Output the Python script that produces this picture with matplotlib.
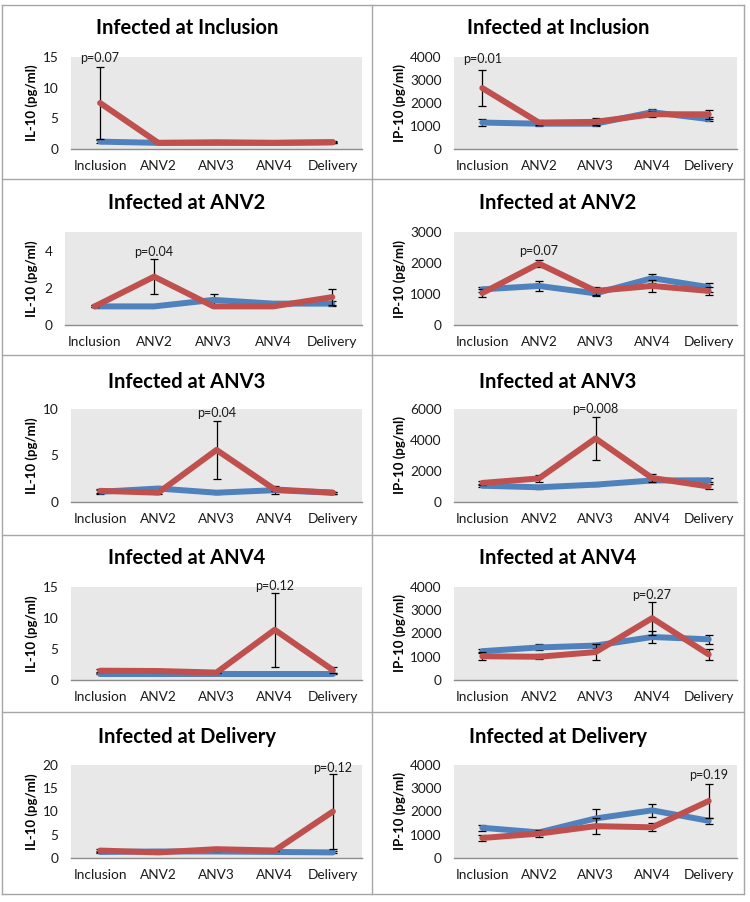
import matplotlib
matplotlib.use("Agg")
import matplotlib.pyplot as plt
from matplotlib.lines import Line2D

plt.rcParams['font.family'] = ['Lato', 'DejaVu Sans']

categories = ["Inclusion", "ANV2", "ANV3", "ANV4", "Delivery"]

titles = ["Infected at Inclusion", "Infected at ANV2", "Infected at ANV3",
          "Infected at ANV4", "Infected at Delivery"]

# IL-10 (left column)
il10_blue = [
    [1.2, 1.0, 1.1, 1.0, 1.1],
    [1.0, 1.0, 1.35, 1.15, 1.15],
    [1.1, 1.45, 1.0, 1.27, 1.0],
    [1.0, 1.0, 1.0, 1.0, 1.0],
    [1.3, 1.4, 1.4, 1.3, 1.2],
]
il10_blue_err = [
    [0.2, 0.1, 0.1, 0.1, 0.2],
    [0.05, 0.05, 0.3, 0.1, 0.15],
    [0.2, 0.2, 0.1, 0.4, 0.1],
    [0.1, 0.1, 0.1, 0.1, 0.1],
    [0.3, 0.2, 0.2, 0.2, 0.2],
]
il10_red = [
    [7.5, 1.0, 1.0, 1.0, 1.1],
    [1.0, 2.6, 1.0, 1.0, 1.5],
    [1.2, 1.0, 5.6, 1.35, 1.0],
    [1.5, 1.45, 1.2, 8.1, 1.6],
    [1.6, 1.2, 1.9, 1.6, 10.0],
]
il10_red_err = [
    [5.9, 0.1, 0.1, 0.1, 0.1],
    [0.05, 0.95, 0.05, 0.05, 0.45],
    [0.2, 0.1, 3.1, 0.2, 0.1],
    [0.2, 0.2, 0.1, 6.0, 0.5],
    [0.3, 0.2, 0.3, 0.2, 8.0],
]
il10_ymax = [15, 5, 10, 15, 20]
il10_ticks = [[0, 5, 10, 15], [0, 2, 4], [0, 5, 10], [0, 5, 10, 15], [0, 5, 10, 15, 20]]
il10_p = ["p=0.07", "p=0.04", "p=0.04", "p=0.12", "p=0.12"]
il10_p_idx = [0, 1, 2, 3, 4]
il10_p_y = [14.9, 3.9, 9.6, 15.1, 19.3]

# IP-10 (right column)
ip10_blue = [
    [1150, 1100, 1100, 1600, 1300],
    [1150, 1260, 1020, 1510, 1220],
    [1050, 950, 1120, 1390, 1400],
    [1240, 1400, 1480, 1850, 1750],
    [1300, 1100, 1700, 2050, 1600],
]
ip10_blue_err = [
    [150, 100, 120, 120, 100],
    [80, 150, 80, 140, 150],
    [80, 80, 80, 100, 120],
    [100, 130, 100, 250, 200],
    [120, 120, 400, 270, 130],
]
ip10_red = [
    [2650, 1150, 1180, 1510, 1510],
    [1030, 1980, 1100, 1260, 1100],
    [1230, 1520, 4100, 1550, 1000],
    [1020, 1000, 1200, 2660, 1100],
    [860, 1050, 1370, 1320, 2450],
]
ip10_red_err = [
    [770, 100, 150, 130, 190],
    [130, 110, 140, 180, 130],
    [120, 250, 1400, 250, 130],
    [170, 100, 330, 710, 240],
    [140, 150, 330, 170, 750],
]
ip10_ymax = [4000, 3000, 6000, 4000, 4000]
ip10_ticks = [[0, 1000, 2000, 3000, 4000], [0, 1000, 2000, 3000], [0, 2000, 4000, 6000],
              [0, 1000, 2000, 3000, 4000], [0, 1000, 2000, 3000, 4000]]
ip10_p = ["p=0.01", "p=0.07", "p=0.008", "p=0.27", "p=0.19"]
ip10_p_idx = [0, 1, 2, 3, 4]
ip10_p_y = [3900, 2380, 6000, 3660, 3550]

BLUE = "#4F81BD"
RED = "#C0504D"
BG = "#E8E8E8"
W, H = 750, 902

fig = plt.figure(figsize=(W / 100, H / 100), dpi=100)

plot_tb = [(57, 149), (232, 325), (409, 502), (587, 680), (765, 858)]
title_y = [28, 203, 382, 558, 737]
col_bounds = [(2, 372), (372, 744)]

# table borders
for xb in [2, 372, 744]:
    fig.add_artist(Line2D([xb / W, xb / W], [1 - 5 / H, 1 - 894 / H], color="#A6A6A6", lw=1.0))
for yb in [5, 179, 355, 535, 712, 894]:
    fig.add_artist(Line2D([2 / W, 744 / W], [1 - yb / H, 1 - yb / H], color="#A6A6A6", lw=1.0))

x = list(range(len(categories)))


def draw_panel(ax, blue, berr, red, rerr, ymax, ticks, ptxt, pidx, py):
    ax.set_facecolor(BG)
    ax.errorbar(x, blue, yerr=berr, color=BLUE, lw=4.3, ecolor="black", elinewidth=0.9,
                capsize=3, capthick=0.9, zorder=2, solid_capstyle="round")
    ax.errorbar(x, red, yerr=rerr, color=RED, lw=4.3, ecolor="black", elinewidth=0.9,
                capsize=3, capthick=0.9, zorder=3, solid_capstyle="round")
    ax.set_xlim(-0.5, len(categories) - 0.5)
    ax.set_ylim(0, ymax)
    ax.set_yticks(ticks)
    ax.set_xticks(x)
    ax.set_xticklabels(categories)
    for s in ["top", "right", "left"]:
        ax.spines[s].set_visible(False)
    ax.spines["bottom"].set_color("#8C8C8C")
    ax.spines["bottom"].set_linewidth(1.0)
    ax.tick_params(axis="both", length=0, labelsize=9.8, colors="#1a1a1a")
    ax.tick_params(axis="x", pad=8)
    ax.tick_params(axis="y", pad=9)
    ax.text(pidx, py, ptxt, ha="center", va="center", fontsize=9, color="#1a1a1a", zorder=5)


for r in range(5):
    t, b = plot_tb[r]
    # left column
    l0 = 65 if r == 1 else 71
    axL = fig.add_axes([l0 / W, 1 - b / H, (362 - l0) / W, (b - t) / H])
    draw_panel(axL, il10_blue[r], il10_blue_err[r], il10_red[r], il10_red_err[r],
               il10_ymax[r], il10_ticks[r], il10_p[r], il10_p_idx[r], il10_p_y[r])
    fig.text(32 / W, 1 - ((t + b) / 2) / H, "IL-10 (pg/ml)", rotation=90, ha="center",
             va="center", fontsize=9.5, fontweight="bold")
    # right column
    axR = fig.add_axes([454 / W, 1 - b / H, (737 - 454) / W, (b - t) / H])
    draw_panel(axR, ip10_blue[r], ip10_blue_err[r], ip10_red[r], ip10_red_err[r],
               ip10_ymax[r], ip10_ticks[r], ip10_p[r], ip10_p_idx[r], ip10_p_y[r])
    fig.text(400 / W, 1 - ((t + b) / 2) / H, "IP-10 (pg/ml)", rotation=90, ha="center",
             va="center", fontsize=9.5, fontweight="bold")
    # titles
    for (c0, c1) in col_bounds:
        fig.text(((c0 + c1) / 2) / W, 1 - title_y[r] / H, titles[r], ha="center", va="center",
                 fontsize=14.5, fontweight="bold")

fig.savefig("out.png", dpi=100, facecolor="white")
